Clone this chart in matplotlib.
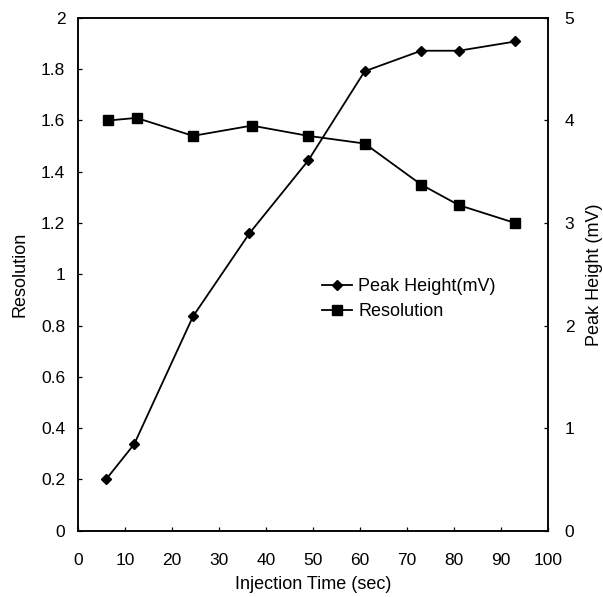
import matplotlib
matplotlib.use("Agg")
import matplotlib.pyplot as plt
from matplotlib.lines import Line2D

plt.rcParams['font.family'] = ['Liberation Sans', 'DejaVu Sans']

# Data
peak_time = [6, 12, 24.5, 36.5, 49, 61, 73, 81, 93]
peak_height_mv = [0.5, 0.845, 2.09, 2.9, 3.61, 4.48, 4.68, 4.68, 4.77]
res_time = [6.5, 12.5, 24.5, 37, 49, 61, 73, 81, 93]
resolution = [1.60, 1.61, 1.54, 1.58, 1.54, 1.51, 1.35, 1.27, 1.20]

x_ticks = list(range(0, 101, 10))
left_ticks = [0, 0.2, 0.4, 0.6, 0.8, 1.0, 1.2, 1.4, 1.6, 1.8, 2.0]
left_labels = ['0', '0.2', '0.4', '0.6', '0.8', '1', '1.2', '1.4', '1.6', '1.8', '2']
right_ticks = [0, 1, 2, 3, 4, 5]

fig = plt.figure(figsize=(6.03, 5.97), dpi=100)
ax = fig.add_axes([0.129, 0.111, 0.780, 0.859])
ax2 = ax.twinx()

fs_tick = 12.5
fs_lab = 13
ax.plot(res_time, resolution, color='black', lw=1.3, marker='s', ms=6.5, zorder=3)
ax2.plot(peak_time, peak_height_mv, color='black', lw=1.3, marker='D', ms=5.5, zorder=3)

ax.set_xlim(0, 100)
ax.set_ylim(0, 2)
ax2.set_ylim(0, 5)
ax.set_xticks(x_ticks)
ax.set_yticks(left_ticks)
ax.set_yticklabels(left_labels)
ax2.set_yticks(right_ticks)

ax.tick_params(axis='x', direction='in', length=3, width=0.9, pad=16, labelsize=fs_tick)
ax.tick_params(axis='y', direction='in', length=3, width=0.9, pad=9, labelsize=fs_tick)
ax2.tick_params(axis='y', direction='in', length=3, width=0.9, pad=12, labelsize=fs_tick)

for a in (ax, ax2):
    for s in a.spines.values():
        s.set_linewidth(1.1)

ax.set_xlabel('Injection Time (sec)', fontsize=fs_lab, labelpad=6)
ax.set_ylabel('Resolution', fontsize=fs_lab, labelpad=9)
ax2.set_ylabel('Peak Height (mV)', fontsize=fs_lab, labelpad=8.5)

handles = [
    Line2D([], [], color='black', lw=1.3, marker='D', ms=5.5),
    Line2D([], [], color='black', lw=1.3, marker='s', ms=6.5),
]
ax.legend(handles, ['Peak Height(mV)', 'Resolution'], loc='upper left',
          bbox_to_anchor=(0.519, 0.493), frameon=False, fontsize=fs_lab,
          handlelength=1.65, handletextpad=0.35, labelspacing=0.45,
          borderaxespad=0, borderpad=0)

fig.savefig('out.png', dpi=100)
